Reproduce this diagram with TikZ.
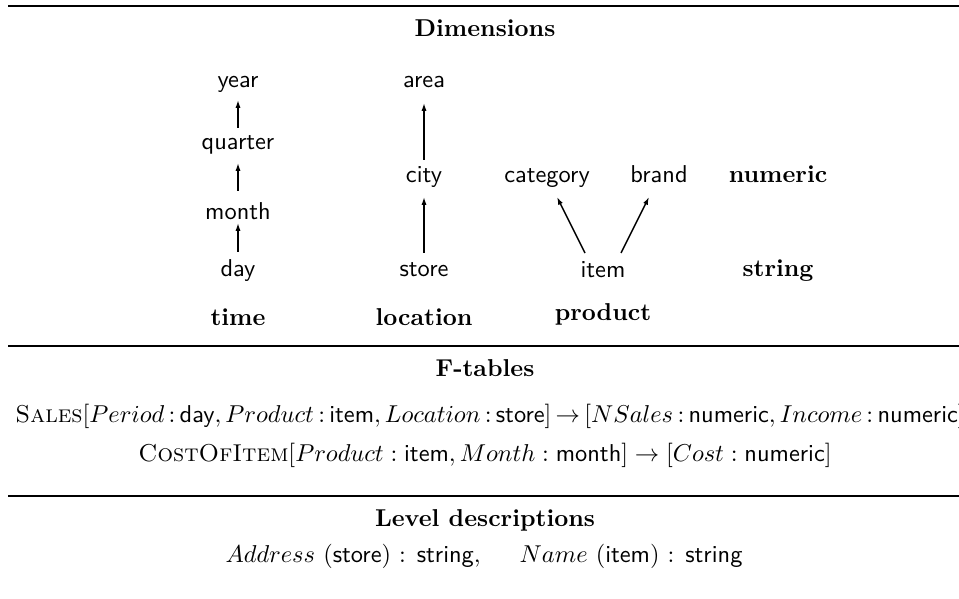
\documentclass[tikz,border=0pt]{standalone}
\usetikzlibrary{arrows.meta}
\begin{document}
\begin{tikzpicture}[x=0.41pt,y=-0.41pt,
  lvl/.style={font=\sffamily, inner sep=0pt, text height=6.9pt, text depth=1.9pt, anchor=base},
  dimname/.style={font=\bfseries, inner sep=0pt, anchor=base},
  ttl/.style={font=\bfseries, inner sep=0pt, anchor=base},
  row/.style={inner sep=0pt, anchor=base},
  arr/.style={-{Latex[length=3.2pt,width=2.1pt]}, line width=0.6pt},
  rul/.style={line width=1.1pt}]
\useasboundingbox (0,0) rectangle (959,599);
% rules
\draw[rul] (8,6) -- (970,6);
\draw[rul] (8,346) -- (970,346);
\draw[rul] (8,496) -- (970,496);
% Dimensions
\node[ttl] (dimt) at (485,37) {Dimensions};
\node[lvl] (year) at (238,88) {year};
\node[lvl] (quarter) at (238,150) {quarter};
\node[lvl] (month) at (238,220) {month};
\node[lvl] (day) at (238,277) {day};
\node[dimname] (time) at (238,326) {time};
\node[lvl] (area) at (424,88) {area};
\node[lvl] (city) at (424,183) {city};
\node[lvl] (store) at (424,277) {store};
\node[dimname] (location) at (424,326) {location};
\node[lvl] (category) at (547,183) {category};
\node[lvl] (brand) at (659,183) {brand};
\node[lvl] (item) at (603,278) {item};
\node[dimname] (product) at (603,321) {product};
\node[dimname] (numeric) at (778,183) {numeric};
\node[dimname] (string) at (778,277) {string};
% arrows
\draw[arr] ([shift={(0,-25)}]day.base) -- ([shift={(0,3)}]month.base);
\draw[arr] ([shift={(0,-29)}]month.base) -- ([shift={(0,13)}]quarter.base);
\draw[arr] ([shift={(0,-22)}]quarter.base) -- ([shift={(0,12)}]year.base);
\draw[arr] ([shift={(0,-24)}]store.base) -- ([shift={(0,14)}]city.base);
\draw[arr] ([shift={(0,-23)}]city.base) -- ([shift={(0,15)}]area.base);
\draw[arr] ([shift={(-18,-25)}]item.base) -- ([shift={(10,14)}]category.base);
\draw[arr] ([shift={(18,-25)}]item.base) -- ([shift={(-10,14)}]brand.base);
% F-tables
\node[ttl] (ftt) at (485,377) {F-tables};
\node[row, anchor=base west] (sales) at (15,423) {\thickmuskip=3.15mu\textsc{Sales}$[Period:\textsf{day}, Product:\textsf{item}, Location:\textsf{store}]\rightarrow[NSales:\textsf{numeric}, Income:\textsf{numeric}]$};
\node[row] (cost) at (485,462) {\textsc{CostOfItem}$[Product:\textsf{item}, Month:\textsf{month}]\rightarrow[Cost:\textsf{numeric}]$};
% Level descriptions
\node[ttl] (ldt) at (485,527) {Level descriptions};
\node[row] (addr) at (484,562) {$Address$ (\textsf{store}) : \textsf{string},\hspace{1.6em}$Name$ (\textsf{item}) : \textsf{string}};
\end{tikzpicture}
\end{document}
